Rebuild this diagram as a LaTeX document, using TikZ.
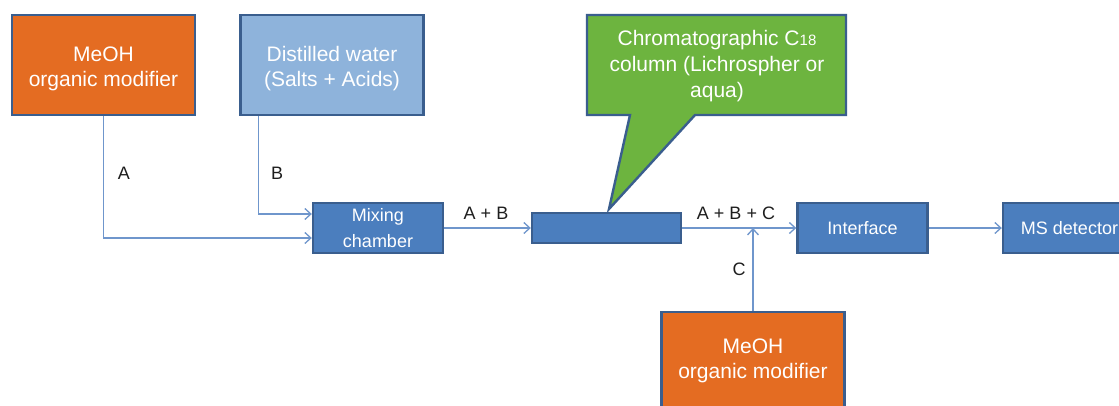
\documentclass[tikz,border=0pt]{standalone}
\usepackage{fontspec}
\setmainfont{Liberation Sans}
\usetikzlibrary{arrows.meta,calc}
\definecolor{orangefill}{HTML}{E46C22}
\definecolor{lightbluefill}{HTML}{8EB3DB}
\definecolor{darkbluefill}{HTML}{4B7EBE}
\definecolor{boxborder}{HTML}{3A5E8E}
\definecolor{greenfill}{HTML}{6DB43F}
\definecolor{linecol}{HTML}{6F96CC}
\definecolor{labelcol}{HTML}{1E1E1E}
\tikzset{
  bigbox/.style={draw=boxborder, line width=2.4pt, minimum width=183pt, minimum height=100pt,
    inner sep=0pt},
  bigtext/.style={text=white, align=center, inner sep=0pt, font=\fontsize{21}{25}\selectfont},
  smallbox/.style={draw=boxborder, line width=2.4pt, fill=darkbluefill, minimum width=130pt,
    minimum height=50pt, inner sep=0pt, text=white, align=center, font=\fontsize{18}{26}\selectfont},
  conn/.style={draw=linecol, line width=1.6pt, -{Straight Barb[length=6pt,width=11pt,line width=1.3pt]}},
  lbl/.style={text=labelcol, font=\fontsize{18}{22}\selectfont, inner sep=0pt}
}
\begin{document}
\begin{tikzpicture}[x=1pt,y=-1pt]
\clip (0,0) rectangle (1119,405);
\fill[white] (0,0) rectangle (1119,405);
% top boxes
\node[bigbox, fill=orangefill] (meohA) at (103.5,65) {};
\node[bigtext] (meohAtext) at (103.5,69) {MeOH\\organic modifier};
\node[bigbox, fill=lightbluefill] (water) at (332,65) {};
\node[bigtext] (watertext) at (332,69) {Distilled water\\(Salts + Acids)};
% process boxes
\node[smallbox] (mix) at (378,228) {Mixing\\chamber};
\node[smallbox, minimum width=149pt, minimum height=30pt] (column) at (606.5,228) {};
\node[smallbox] (iface) at (862.5,228) {Interface};
\node[smallbox, minimum width=133pt] (ms) at (1069.5,228) {MS detector};
% bottom box
\node[bigbox, fill=orangefill] (meohC) at (753,362) {};
\node[bigtext] (meohCtext) at (753,361) {MeOH\\organic modifier};
% callout
\draw[draw=boxborder, line width=2.4pt, fill=greenfill, line join=miter]
  (587,15) -- (846,15) -- (846,115) -- (695,115) -- (609,209) -- (630,115) -- (587,115) -- cycle;
\node[text=white, align=center, font=\fontsize{21}{26}\selectfont, inner sep=0pt] (callout) at (717,66)
  {Chromatographic C{\fontsize{15}{15}\selectfont 18}\\column (Lichrospher or\\aqua)};
% connectors
\coordinate (aturn) at (meohA.south |- 0,238);
\coordinate (bstart) at ($(water.south west)+(19,0)$);
\coordinate (bturn) at (bstart |- 0,214);
\draw[conn] (meohA.south) -- (aturn) -- (aturn -| mix.west);
\draw[conn] (bstart) -- (bturn) -- (bturn -| mix.west);
\draw[conn] (mix.east) -- (column.west);
\draw[conn] (column.east) -- (iface.west);
\coordinate (join) at (meohC.north |- iface.west);
\draw[conn] (meohC.north) -- (join);
\draw[conn] (iface.east) -- (ms.west);
% labels
\node[lbl] (la) at (124,173) {A};
\node[lbl] (lb) at (277,173) {B};
\node[lbl] (lab) at (486,213) {A + B};
\node[lbl] (labc) at (736,213) {A + B + C};
\node[lbl] (lc) at (739,269) {C};
\end{tikzpicture}
\end{document}
